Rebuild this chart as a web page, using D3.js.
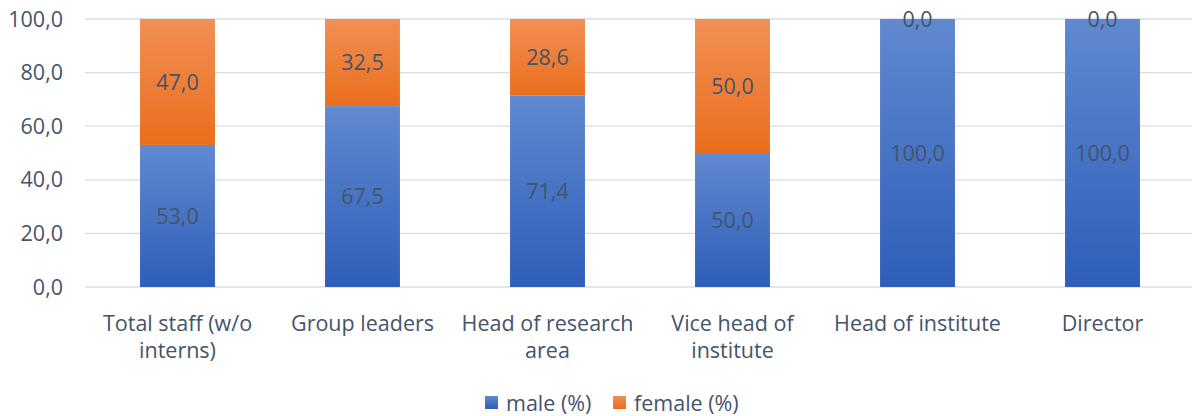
<!DOCTYPE html>
<html>
<head>
<meta charset="utf-8">
<script src="https://cdn.jsdelivr.net/npm/d3@7"></script>
<style>
  body { margin: 0; background: #fff; }
  text { font-family: "Open Sans", Lato, sans-serif; fill: #44546a; }
</style>
</head>
<body>
<div id="chart"></div>
<script>
var categorias = [["Total staff (w/o", "interns)"], ["Group leaders"], ["Head of research", "area"], ["Vice head of", "institute"], ["Head of institute"], ["Director"]];
var male = [53.0, 67.5, 71.4, 50.0, 100.0, 100.0];
var female = [47.0, 32.5, 28.6, 50.0, 0.0, 0.0];
var ticks = [0, 20, 40, 60, 80, 100];
var series = ["male (%)", "female (%)"];

var width = 1192, height = 416;
var margin = {left: 85, right: -3, top: 19, bottom: 129};
var fs = "21.5px";

var svg = d3.select("#chart").append("svg")
  .attr("width", width).attr("height", height);

var defs = svg.append("defs");
function gradiente(id, arriba, abajo){
  var g = defs.append("linearGradient").attr("id", id)
    .attr("x1", 0).attr("y1", 0).attr("x2", 0).attr("y2", 1);
  g.append("stop").attr("offset", "0%").attr("stop-color", arriba);
  g.append("stop").attr("offset", "100%").attr("stop-color", abajo);
}
gradiente("gBlue", "#6189d0", "#2e5eb9");
gradiente("gOrange", "#f28f55", "#e96e1c");

var x = d3.scaleBand()
  .domain(d3.range(categorias.length))
  .range([margin.left, width - margin.right])
  .paddingInner(0.595).paddingOuter(0.2975);

var y = d3.scaleLinear().domain([0, 100])
  .range([height - margin.bottom, margin.top]);

// gridlines
svg.append("g").selectAll("line").data(ticks).enter().append("line")
  .attr("x1", margin.left).attr("x2", width)
  .attr("y1", function(d){ return y(d); }).attr("y2", function(d){ return y(d); })
  .attr("stroke", "#d9dde3").attr("stroke-width", 1.3);

// tick labels
svg.append("g").selectAll("text").data(ticks).enter().append("text")
  .attr("x", 63).attr("y", function(d){ return y(d); })
  .attr("dy", "0.35em").attr("text-anchor", "end")
  .style("font-size", fs)
  .text(function(d){ return d.toFixed(1).replace(".", ","); });

var datos = categorias.map(function(c, i){ return {i: i, male: male[i], female: female[i]}; });
var stack = d3.stack().keys(["male", "female"])(datos);
var fills = ["url(#gBlue)", "url(#gOrange)"];

stack.forEach(function(capa, k){
  var g = svg.append("g");
  capa.forEach(function(d, i){
    var h = y(d[0]) - y(d[1]);
    g.append("rect")
      .attr("x", x(i)).attr("width", x.bandwidth())
      .attr("y", y(d[1])).attr("height", h)
      .attr("fill", h > 0 ? fills[k] : "none"); // gradiente por segmento
  });
});

// data labels
stack.forEach(function(capa){
  svg.append("g").selectAll("text").data(capa).enter().append("text")
    .attr("x", function(d, i){ return x(i) + x.bandwidth() / 2; })
    .attr("y", function(d){ return (y(d[0]) + y(d[1])) / 2; })
    .attr("dy", "0.35em").attr("text-anchor", "middle")
    .style("font-size", fs)
    .text(function(d){ return (d[1] - d[0]).toFixed(1).replace(".", ","); });
});

// category labels
var cat = svg.append("g").selectAll("text").data(categorias).enter().append("text")
  .attr("x", function(d, i){ return x(i) + x.bandwidth() / 2; })
  .attr("y", 331).attr("text-anchor", "middle")
  .style("font-size", fs);
cat.each(function(d){
  var t = d3.select(this);
  d.forEach(function(linea, j){
    t.append("tspan").attr("x", t.attr("x")).attr("dy", j === 0 ? 0 : 27).text(linea);
  });
});

// legend
var leyenda = svg.append("g");
var lx = [485, 613];
series.forEach(function(s, k){
  leyenda.append("rect").attr("x", lx[k]).attr("y", 396)
    .attr("width", 13).attr("height", 13).attr("fill", fills[k]);
  leyenda.append("text").attr("x", lx[k] + 21).attr("y", 403)
    .attr("dy", "0.35em").style("font-size", fs).text(s);
});
</script>
</body>
</html>
